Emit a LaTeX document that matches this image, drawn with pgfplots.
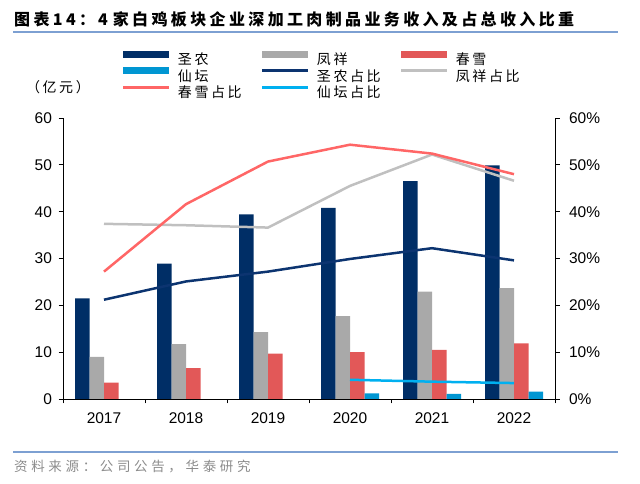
\documentclass[border=0pt]{standalone}
\usepackage{pgfplots}
\pgfplotsset{compat=1.18}
\usepackage{fontspec}
\setmainfont{Liberation Sans}
\newfontfamily\cjk[LetterSpace=18]{Noto Sans CJK SC}
\newfontfamily\cjktitle[LetterSpace=21]{Noto Sans CJK SC}
\newfontfamily\cjksrc[LetterSpace=27]{Noto Sans CJK SC}

\definecolor{snbar}{RGB}{0,46,102}
\definecolor{fxbar}{RGB}{169,169,169}
\definecolor{cxbar}{RGB}{226,88,88}
\definecolor{xtbar}{RGB}{0,150,210}
\definecolor{snline}{RGB}{12,52,112}
\definecolor{fxline}{RGB}{192,192,192}
\definecolor{cxline}{RGB}{255,102,102}
\definecolor{xtline}{RGB}{0,176,240}
\definecolor{rule}{RGB}{125,160,210}
\definecolor{srcgray}{RGB}{140,140,140}

\pgfplotsset{
  barlegend/.style={legend image code/.code={\fill[#1] (0pt,1.5pt) rectangle (46pt,8.5pt);}},
  linelegend/.style={legend image code/.code={\draw[#1, line width=3pt] (0pt,5pt) -- (46pt,5pt);}},
  frame/.style={
    at={(63pt,85pt)}, anchor=south west,
    scale only axis, width=492pt, height=281pt,
    xmin=-0.5, xmax=5.5, ymin=0, ymax=60,
    axis line style={black, line width=0.8pt},
    tick align=outside, major tick length=4.5pt,
    tick style={black, line width=0.8pt},
    ytick={0,10,20,30,40,50,60},
    ticklabel style={font=\fontsize{15.5}{15.5}\selectfont},
  },
}

\begin{document}
\begin{tikzpicture}[x=1pt,y=1pt]
\useasboundingbox (0,0) rectangle (640,484);

\node[anchor=west, inner sep=0pt, font=\fontsize{16}{16}\cjktitle\bfseries] at (14,465)
  {图表14：\hspace{3pt}4\hspace{5pt}家白鸡板块企业深加工肉制品业务收入及占总收入比重};
\draw[rule, line width=1.2pt] (13,452) -- (618,452);
\draw[rule, line width=1.2pt] (13,32) -- (618,32);
\node[anchor=west, inner sep=0pt, font=\fontsize{13.5}{13.5}\cjksrc, text=srcgray] at (14,17)
  {资料来源：公司公告，华泰研究};
\node[inner sep=0pt, font=\fontsize{14}{14}\cjk] at (58,397) {（亿元）};

% bars, left axis
\begin{axis}[frame,
  axis x line*=bottom, axis y line*=left,
  xtick={-0.5,0.5,1.5,2.5,3.5,4.5,5.5}, x tick label as interval,
  xticklabels={2017,2018,2019,2020,2021,2022},
  xticklabel style={yshift=-6pt},
  yticklabels={0,10,20,30,40,50,60},
  yticklabel style={xshift=-3pt},
  legend columns=3, legend cell align=left,
  legend style={at={(0.1199,1.2394)}, anchor=north west, draw=none, fill=none,
    inner sep=0pt, outer sep=0pt, row sep=0pt, column sep=0pt,
    font=\fontsize{14}{14}\cjk,
    nodes={inner sep=0pt, outer sep=0pt, minimum height=16.5pt},
    /tikz/every odd column/.style={column sep=7pt}},
]
\addplot[ybar, bar width=14.5pt, bar shift=-21.75pt, fill=snbar, draw=none, barlegend=snbar]
  coordinates {(0,21.5) (1,28.9) (2,39.4) (3,40.8) (4,46.5) (5,49.9)};
\addlegendentry{\makebox[83pt][l]{圣农}}
\addplot[ybar, bar width=14.5pt, bar shift=-7.25pt, fill=fxbar, draw=none, barlegend=fxbar]
  coordinates {(0,9.0) (1,11.7) (2,14.3) (3,17.7) (4,22.9) (5,23.7)};
\addlegendentry{\makebox[83pt][l]{凤祥}}
\addplot[ybar, bar width=14.5pt, bar shift=7.25pt, fill=cxbar, draw=none, barlegend=cxbar]
  coordinates {(0,3.5) (1,6.6) (2,9.7) (3,10.0) (4,10.5) (5,11.9)};
\addlegendentry{\makebox[83pt][l]{春雪}}
\addplot[ybar, bar width=14.5pt, bar shift=21.75pt, fill=xtbar, draw=none, barlegend=xtbar]
  coordinates {(3,1.2) (4,1.1) (5,1.6)};
\addlegendentry{\makebox[83pt][l]{仙坛}}
\addlegendimage{linelegend=snline}
\addlegendentry{\makebox[83pt][l]{圣农占比}}
\addlegendimage{linelegend=fxline}
\addlegendentry{\makebox[83pt][l]{凤祥占比}}
\addlegendimage{linelegend=cxline}
\addlegendentry{\makebox[83pt][l]{春雪占比}}
\addlegendimage{linelegend=xtline}
\addlegendentry{\makebox[83pt][l]{仙坛占比}}
\end{axis}

% shares, right axis
\begin{axis}[frame,
  axis x line=none, axis y line*=right,
  yticklabels={0\%,10\%,20\%,30\%,40\%,50\%,60\%},
  yticklabel style={xshift=6pt},
]
\addplot[snline, line width=2.5pt, line join=round]
  coordinates {(0,21.2) (1,25.1) (2,27.2) (3,29.9) (4,32.2) (5,29.6)};
\addplot[fxline, line width=2.5pt, line join=round]
  coordinates {(0,37.4) (1,37.1) (2,36.6) (3,45.5) (4,52.2) (5,46.6)};
\addplot[cxline, line width=2.5pt, line join=round]
  coordinates {(0,27.2) (1,41.6) (2,50.7) (3,54.3) (4,52.4) (5,48.0)};
\addplot[xtline, line width=2.5pt, line join=round]
  coordinates {(3,4.1) (4,3.7) (5,3.4)};
\end{axis}
\end{tikzpicture}
\end{document}
